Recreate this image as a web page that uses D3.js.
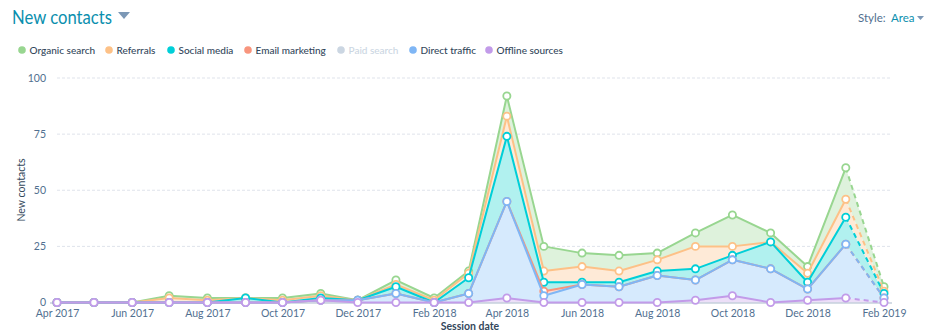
<!DOCTYPE html>
<html><head><meta charset="utf-8">
<script src="https://cdn.jsdelivr.net/npm/d3@7"></script>
<style>
html,body{margin:0;padding:0;background:#fff;}
svg{display:block;font-family:Lato,"Open Sans",sans-serif;}
</style></head><body>
<svg id="c" width="937" height="332"></svg>
<script>
const months = ["2017-04","2017-05","2017-06","2017-07","2017-08","2017-09","2017-10","2017-11","2017-12","2018-01","2018-02","2018-03","2018-04","2018-05","2018-06","2018-07","2018-08","2018-09","2018-10","2018-11","2018-12","2019-01","2019-02"];
const organic   = [0,0,0,1,1,0,1,1,0,2,1,1,9,11,6,7,3,6,14,4,3,14,2];
const referrals = [0,0,0,2,1,0,1,1,0,1,1,2,9,5,7,5,5,10,4,0,4,8,1];
const social    = [0,0,0,0,0,2,0,1,0,3,0,7,29,4,1,2,2,5,2,12,3,12,2];
const email     = [0,0,0,0,0,0,0,0,0,0,0,0,0,2,0,0,0,0,0,0,0,0,0];
const paid      = [0,0,0,0,0,0,0,0,0,0,0,0,0,0,0,0,0,0,0,0,0,0,0];
const direct    = [0,0,0,0,0,0,0,0,1,4,0,4,43,3,8,7,12,9,16,15,5,24,2];
const offline   = [0,0,0,0,0,0,0,1,0,0,0,0,2,0,0,0,0,1,3,0,1,2,0];
const yTicks = [0,25,50,75,100];
const xTickLabels = ["Apr 2017","Jun 2017","Aug 2017","Oct 2017","Dec 2017","Feb 2018","Apr 2018","Jun 2018","Aug 2018","Oct 2018","Dec 2018","Feb 2019"];

const series = [
  {key:"organic", name:"Organic search", vals:organic, line:"#98d690", fill:"#def2dc", show:true},
  {key:"referrals", name:"Referrals", vals:referrals, line:"#fdc187", fill:"#feead7", show:true},
  {key:"social", name:"Social media", vals:social, line:"#00cfd8", fill:"#b1f1ef", show:true},
  {key:"email", name:"Email marketing", vals:email, line:"#f8957d", fill:"#fddbd1", show:true},
  {key:"paid", name:"Paid search", vals:paid, line:"#cbd6e2", fill:"#eef2f6", show:false},
  {key:"direct", name:"Direct traffic", vals:direct, line:"#7fb6f5", fill:"#d6eafd", show:true},
  {key:"offline", name:"Offline sources", vals:offline, line:"#c29be9", fill:"#ecdff8", show:true}
];
const legendX = [22,109,171,248,341,413,489];

const parse = d3.timeParse("%Y-%m");
const table = months.map((m,i)=>{const o={date:parse(m)}; series.forEach(s=>o[s.key]=s.vals[i]); return o;});
const stackKeys = series.filter(s=>s.show).map(s=>s.key).reverse();
const stacked = d3.stack().keys(stackKeys)(table);
const byKey = {}; stacked.forEach(l=>byKey[l.key]=l);

const svg = d3.select("#c");
const x = d3.scaleTime().domain(d3.extent(table,d=>d.date)).range([57,884]);
const y = d3.scaleLinear().domain([0,100]).range([302.5,78]);

// title
svg.append("text").attr("x",12).attr("y",24).attr("fill","#0b8fae").attr("font-size",18.5)
  .attr("textLength",100).attr("lengthAdjust","spacingAndGlyphs").text("New contacts");
svg.append("path").attr("d","M118,12 L130,12 L124,19 Z").attr("fill","#7c98b6");
// style
svg.append("text").attr("x",858).attr("y",22).attr("fill","#516f90").attr("font-size",11.5).text("Style:");
svg.append("text").attr("x",891).attr("y",22).attr("fill","#0b8fae").attr("font-size",11.5).text("Area");
svg.append("path").attr("d","M917,16 L924,16 L920.5,20 Z").attr("fill","#7c98b6");

// legend
series.forEach((s,i)=>{
  const lx = legendX[i];
  const g = svg.append("g");
  g.append("circle").attr("cx",lx).attr("cy",50).attr("r",3.8).attr("fill",s.show? s.line : "#cbd6e2");
  g.append("text").attr("x",lx+7.5).attr("y",54).attr("font-size",10).attr("font-weight",500)
    .attr("fill",s.show? "#33475b" : "#cbd6e2").text(s.name);
});

// grid
svg.append("g").selectAll("line").data(yTicks.filter(v=>v>0)).join("line")
  .attr("x1",57).attr("x2",892).attr("y1",d=>y(d)).attr("y2",d=>y(d))
  .attr("stroke","#dfe3eb").attr("stroke-dasharray","3,2").attr("stroke-width",1);
// y labels
svg.append("g").selectAll("text").data(yTicks).join("text")
  .attr("x",46).attr("y",d=>y(d)+3.5).attr("text-anchor","end").attr("font-size",10.5).attr("fill","#516f90").text(d=>d);
svg.append("text").attr("transform","translate(25,190) rotate(-90)").attr("text-anchor","middle")
  .attr("font-size",10.5).attr("fill","#33475b").text("New contacts");

// areas
const area = d3.area().x(d=>x(d.data.date)).y0(d=>y(d[0])).y1(d=>y(d[1]));
stackKeys.forEach(k=>{
  const s = series.find(q=>q.key===k);
  svg.append("path").datum(byKey[k]).attr("d",area).attr("fill",s.fill).attr("stroke","none");
});

// axis line
svg.append("line").attr("x1",50).attr("x2",892).attr("y1",y(0)+0.5).attr("y2",y(0)+0.5).attr("stroke","#a9b9cb").attr("stroke-width",1);

// x axis labels
const xAxis = d3.axisBottom(x).tickValues(xTickLabels.map(t=>d3.timeParse("%b %Y")(t))).tickFormat(d3.timeFormat("%b %Y")).tickSize(0).tickPadding(6.5);
const gx = svg.append("g").attr("transform",`translate(0,${y(0)+1})`).call(xAxis);
gx.select(".domain").remove();
gx.selectAll("text").attr("font-size",10.5).attr("fill","#516f90").attr("font-family","Lato,'Open Sans',sans-serif");
svg.append("text").attr("x",470).attr("y",330).attr("text-anchor","middle").attr("font-size",10.5).attr("font-weight",700).attr("fill","#33475b").text("Session date");

// lines and markers, legend order (offline on top)
const line = d3.line().x(d=>x(d.data.date)).y(d=>y(d[1]));
const n = months.length;
series.filter(s=>s.show).forEach(s=>{
  const L = byKey[s.key];
  svg.append("path").datum(L.slice(0,n-1)).attr("d",line).attr("fill","none").attr("stroke",s.line).attr("stroke-width",2).attr("stroke-linejoin","round");
  svg.append("path").datum(L.slice(n-2)).attr("d",line).attr("fill","none").attr("stroke",s.line).attr("stroke-width",2).attr("stroke-dasharray","5,4");
  svg.append("g").selectAll("circle").data(L).join("circle")
    .attr("cx",d=>x(d.data.date)).attr("cy",d=>y(d[1])).attr("r",3.6)
    .attr("fill","#fff").attr("stroke",s.line).attr("stroke-width",1.8);
});
</script>
</body></html>
